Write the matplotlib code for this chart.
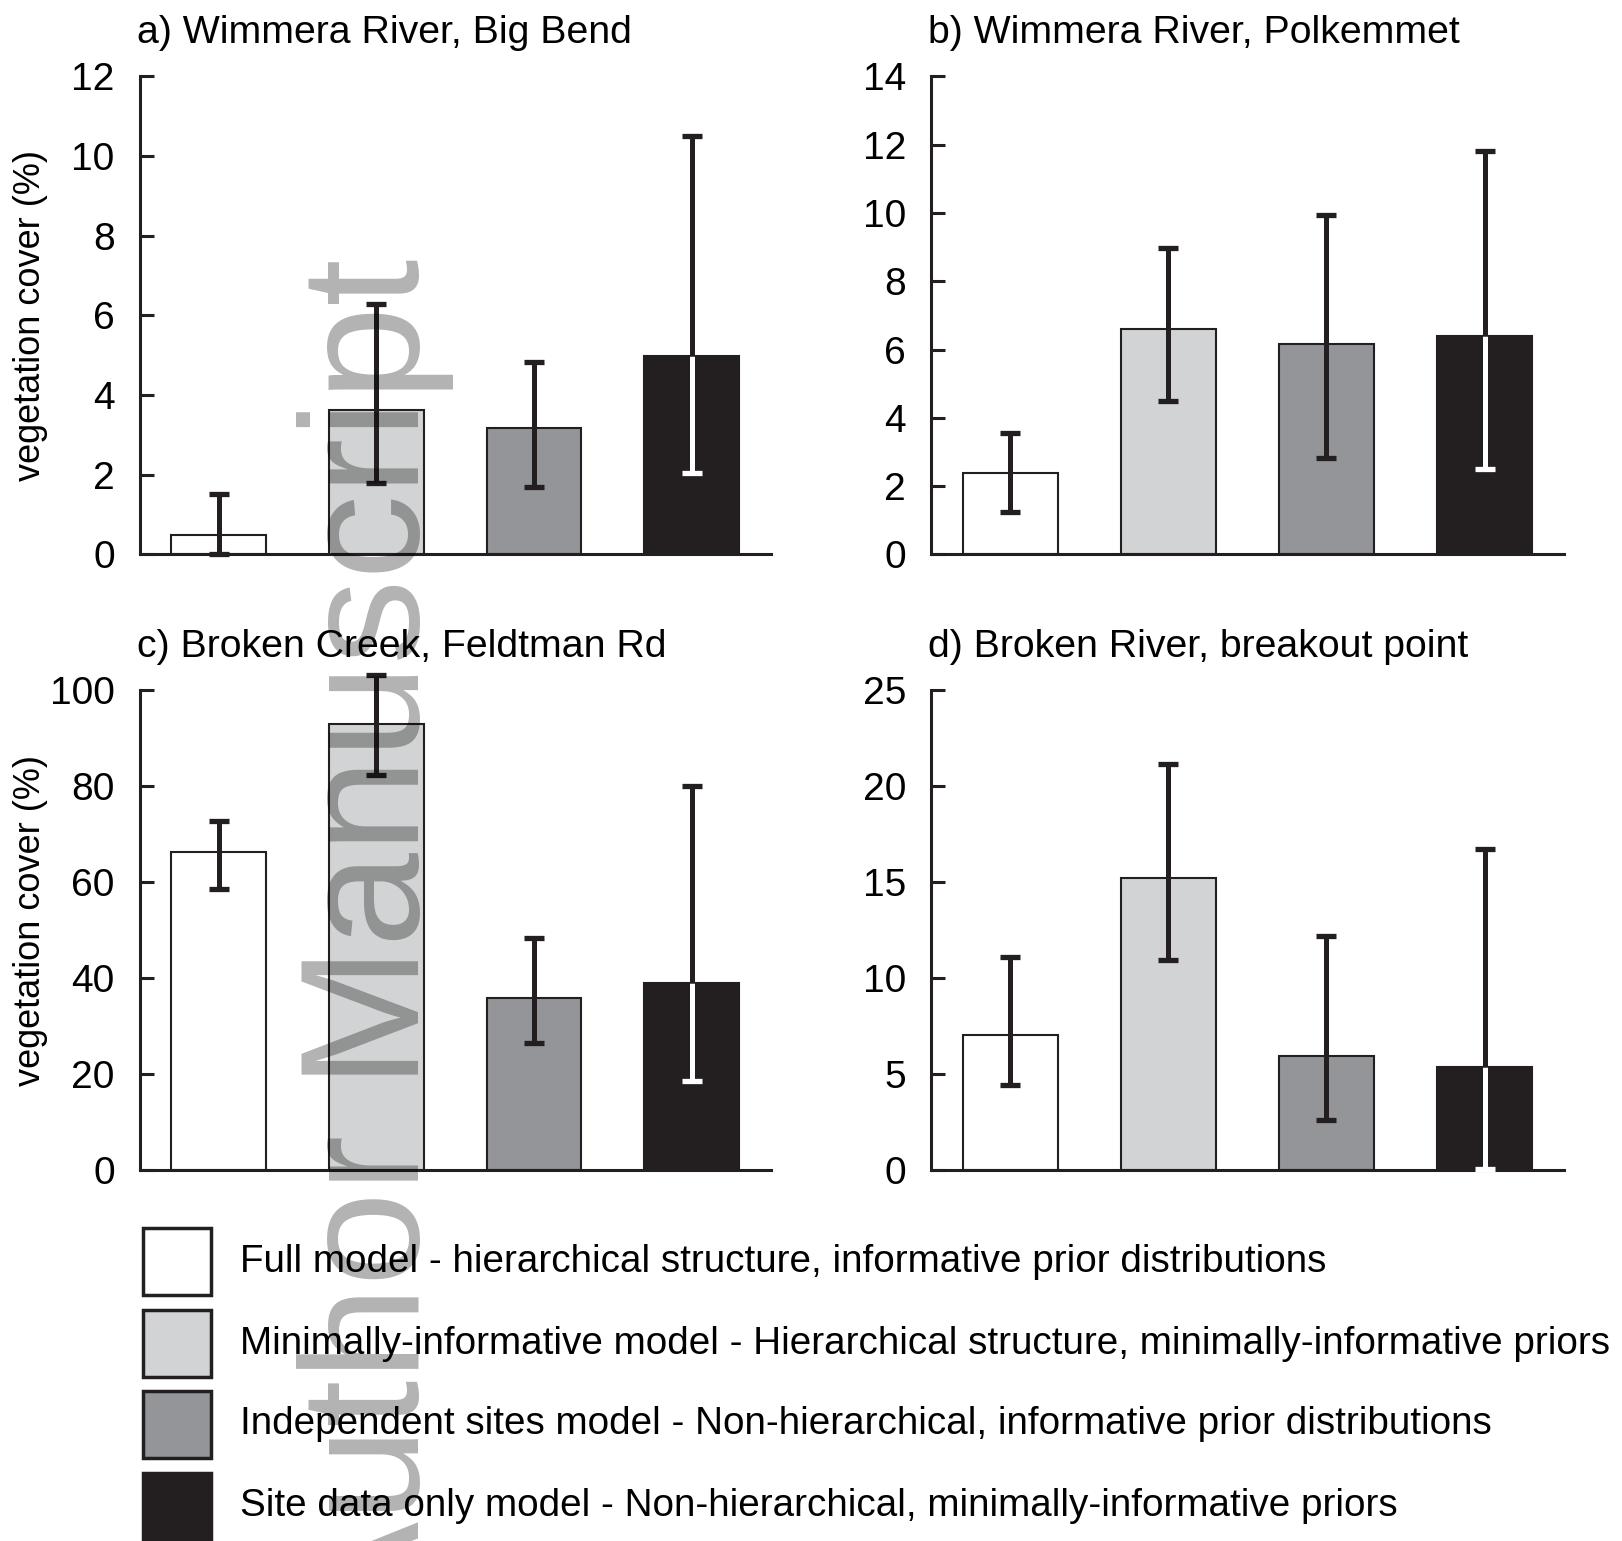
import matplotlib
matplotlib.use("Agg")
from matplotlib import pyplot as plt
from matplotlib.patches import Rectangle
import numpy as np

plt.rcParams['font.family'] = ['Liberation Sans', 'DejaVu Sans']

# data: bar value, lower and upper end of interval
titles = ["a) Wimmera River, Big Bend", "b) Wimmera River, Polkemmet",
          "c) Broken Creek, Feldtman Rd", "d) Broken River, breakout point"]

mean_a = [0.48, 3.63, 3.17, 4.98]
low_a = [0.0, 1.79, 1.70, 2.05]
high_a = [1.53, 6.28, 4.84, 10.51]

mean_b = [2.39, 6.59, 6.17, 6.39]
low_b = [1.24, 4.50, 2.83, 2.50]
high_b = [3.56, 8.98, 9.94, 11.82]

mean_c = [66.3, 93.0, 35.9, 39.0]
low_c = [58.6, 82.2, 26.5, 18.6]
high_c = [72.7, 103.2, 48.3, 79.9]

mean_d = [7.03, 15.18, 5.92, 5.38]
low_d = [4.44, 10.94, 2.59, 0.05]
high_d = [11.1, 21.15, 12.2, 16.7]

ymax = [12, 14, 100, 25]
ystep = [2, 2, 20, 5]

models = ["Full model - hierarchical structure, informative prior distributions",
          "Minimally-informative model - Hierarchical structure, minimally-informative priors",
          "Independent sites model - Non-hierarchical, informative prior distributions",
          "Site data only model - Non-hierarchical, minimally-informative priors"]
colors = ["#ffffff", "#d1d3d4", "#939598", "#231f20"]
dark = "#231f20"

W, H = 1622, 1541
fig = plt.figure(figsize=(W/100, H/100), dpi=100)

rects = [[0.0861, 0.6402, 0.389, 0.3102],
         [0.574, 0.6402, 0.390, 0.3102],
         [0.0861, 0.2408, 0.389, 0.3115],
         [0.574, 0.2408, 0.390, 0.3115]]

panels = [(mean_a, low_a, high_a), (mean_b, low_b, high_b),
          (mean_c, low_c, high_c), (mean_d, low_d, high_d)]

x = np.arange(4)
for k, (mean, low, high) in enumerate(panels):
    ax = fig.add_axes(rects[k])
    ax.bar(x, mean, 0.6, color=colors, edgecolor=dark, linewidth=1.5, zorder=2)
    for i in range(4):
        inner = "white" if i == 3 else dark
        ax.vlines(x[i], low[i], mean[i], color=inner, lw=3.6, zorder=3, clip_on=False)
        ax.vlines(x[i], mean[i], high[i], color=dark, lw=3.6, zorder=3, clip_on=False)
        ax.plot([x[i]], [low[i]], marker="_", ms=15, mew=3.8, color=inner, zorder=4, clip_on=False)
        ax.plot([x[i]], [high[i]], marker="_", ms=15, mew=3.8, color=dark, zorder=4, clip_on=False)
    ax.set_xlim(-0.5, 3.5)
    ax.set_ylim(0, ymax[k])
    ax.set_yticks(np.arange(0, ymax[k] + 1, ystep[k]))
    ax.set_xticks([])
    for s in ["top", "right"]:
        ax.spines[s].set_visible(False)
    for s in ["left", "bottom"]:
        ax.spines[s].set_linewidth(2.2)
        ax.spines[s].set_color(dark)
    ax.tick_params(axis="y", direction="in", length=10, width=2.2, color=dark,
                   labelsize=28, pad=18)
    if k % 2 == 0:
        ax.set_ylabel("vegetation cover (%)", fontsize=26)
        ax.yaxis.set_label_coords(-0.145, 0.5 if k == 0 else 0.52)
    ax.text(-0.004, 1.069, titles[k], transform=ax.transAxes, fontsize=28.3,
            ha="left", va="baseline")

# legend drawn as boxes with text below the panels
box_top = [1228, 1310, 1391, 1473]
for i in range(4):
    fig.patches.append(Rectangle((143/W, 1 - (box_top[i] + 67)/H), 68/W, 67/H,
                                 transform=fig.transFigure, facecolor=colors[i],
                                 edgecolor=dark, linewidth=2.5))
    fig.text(240/W, 1 - (box_top[i] + 33.5)/H, models[i], fontsize=27.8,
             ha="left", va="center")

# watermark
fig.text(419/W, 1 - 259/H, "Author Manuscript", fontsize=122, rotation=90,
         rotation_mode="anchor", ha="right", va="baseline",
         color="black", alpha=0.3, zorder=10)

plt.savefig("out.png", dpi=100)
